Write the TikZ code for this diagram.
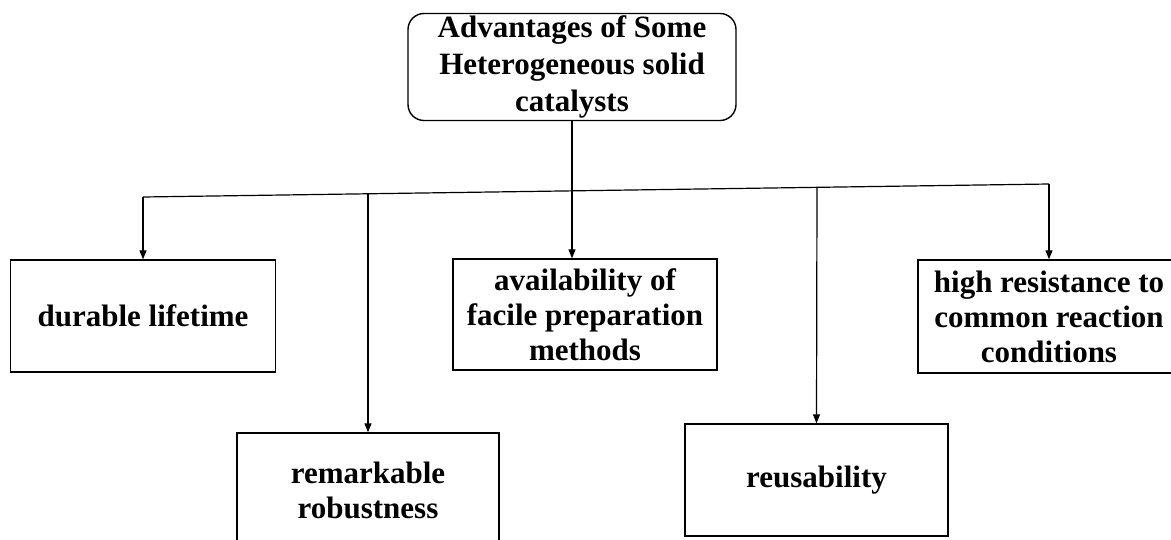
\documentclass[tikz,border=0pt]{standalone}
\usepackage{fontspec}
\setmainfont{Liberation Serif}
\usetikzlibrary{arrows.meta}

\begin{document}
\begin{tikzpicture}[x=1pt,y=-1pt,line width=1.2pt,
 box/.style={draw,line width=1.4pt,minimum width=264pt,minimum height=112pt,inner sep=0pt,align=center,font=\fontsize{31}{35}\selectfont\bfseries},
 arr/.style={-{Triangle[length=9pt,width=7pt]}}]
\useasboundingbox(0,0)rectangle(1171,539);\clip(0,0)rectangle(1171,539);
\node[box,rounded corners=16pt,minimum width=328pt,minimum height=107pt,font=\fontsize{31}{37}\selectfont\bfseries](top)at(572,67){Advantages of Some\\Heterogeneous solid\\catalysts};
\node[box,minimum width=265pt](durable)at(143,316){durable lifetime};
\node[box,minimum height=111pt](avail)at(585,314.5){availability of\\facile preparation\\methods};
\node[box,minimum width=262pt,minimum height=113pt](resist)at(1049,316.5){high resistance to\\common reaction\\conditions};
\node[box,minimum width=262pt,minimum height=114pt](robust)at(368,490){remarkable\\robustness};
\node[box,minimum width=263pt](reuse)at(816.5,480){reusability};
\coordinate(busL)at(143,197);\coordinate(busR)at(1049,184);
\coordinate(bus2)at(368,193.8);\coordinate(bus4)at(817,187.3);
\draw(busL)--(busR);
\draw[arr](top.south)--(top.south|-avail.north);
\draw[arr](busL)--(durable.north);\draw[arr](bus2)--(robust.north);
\draw[arr](bus4)--(reuse.north);\draw[arr](busR)--(resist.north);
\end{tikzpicture}
\end{document}
